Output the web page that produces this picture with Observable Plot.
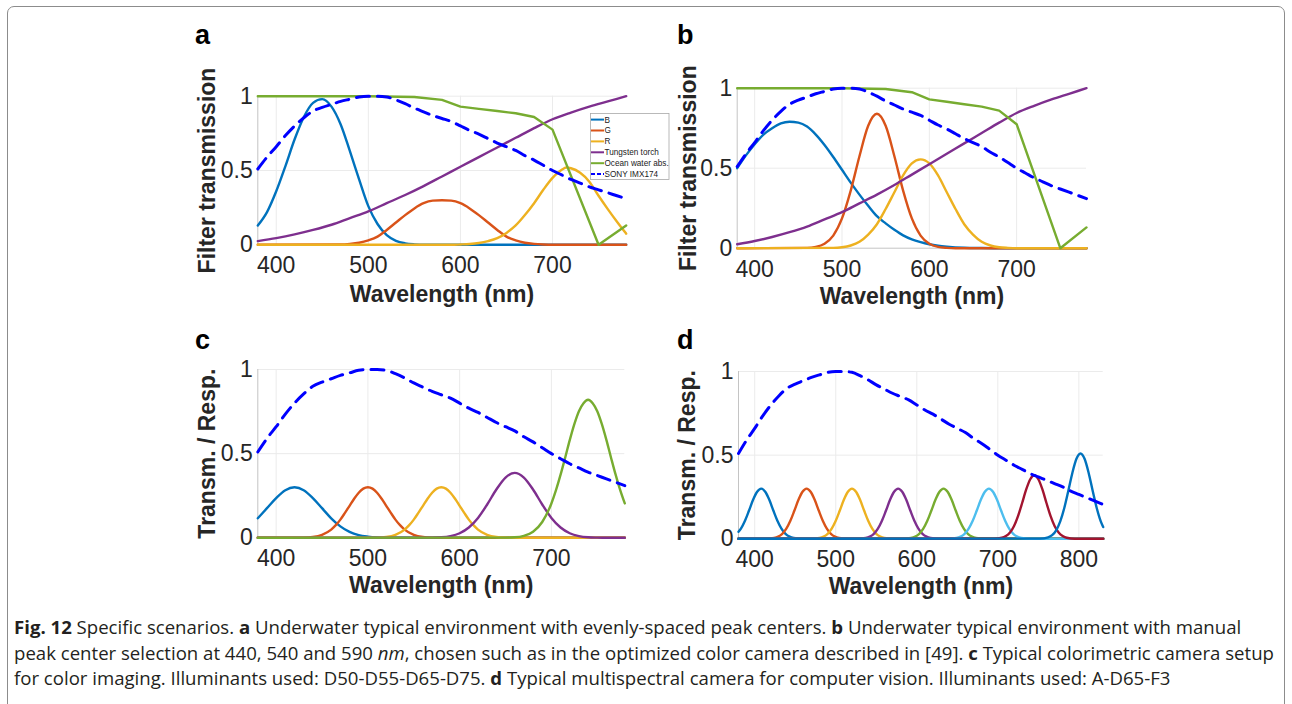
<!DOCTYPE html>
<html><head><meta charset="utf-8">
<script src="https://cdn.jsdelivr.net/npm/d3@7"></script>
<script src="https://cdn.jsdelivr.net/npm/@observablehq/plot@0.6"></script>
<style>
html,body{margin:0;padding:0;background:#fff;}
#page{position:relative;width:1292px;height:704px;overflow:hidden;font-family:"Liberation Sans",Arial,sans-serif;}
#frame{position:absolute;left:7px;top:6px;width:1278px;height:730px;border:1.3px solid #8c8c8c;border-radius:7px;box-sizing:border-box;}
.panel{position:absolute;}
#overlay{position:absolute;left:0;top:0;}
#caption{position:absolute;left:14px;top:614px;font-family:"Open Sans";font-size:18.6px;line-height:25.5px;color:#231f20;white-space:nowrap;}
#caption b{font-weight:700;}
</style></head><body>
<div id="page">
  <div id="frame"></div>
  <div id="pa" class="panel" style="left:180px;top:20px"></div>
  <div id="pb" class="panel" style="left:660px;top:20px"></div>
  <div id="pc" class="panel" style="left:180px;top:320px"></div>
  <div id="pd" class="panel" style="left:660px;top:320px"></div>
  <svg id="overlay" width="1292" height="704"></svg>
  <div id="caption"><b>Fig. 12</b> Specific scenarios. <b>a</b> Underwater typical environment with evenly-spaced peak centers. <b>b</b> Underwater typical environment with manual<br>peak center selection at 440, 540 and 590 <i>nm</i>, chosen such as in the optimized color camera described in [49]. <b>c</b> Typical colorimetric camera setup<br>for color imaging. Illuminants used: D50-D55-D65-D75. <b>d</b> Typical multispectral camera for computer vision. Illuminants used: A-D65-F3</div>
</div>
<script>
// ---------- shared data ----------
const xDomainABC = [380, 780];
const xDomainD = [380, 830];
const xTicksABC = [400, 500, 600, 700];
const xTicksD = [400, 500, 600, 700, 800];
const yTicks = [0, 0.5, 1];

const sonyWl = [380,390,400,410,420,430,440,450,460,470,480,490,500,510,520,530,540,550,560,570,580,590,600,610,620,630,640,650,660,670,680,690,700,710,720,730,740,750,760,770,780,790,800,810,820,830];
const sonyResp = [.51,.59,.66,.735,.80,.855,.90,.925,.945,.965,.98,.995,1.0,1.0,.995,.975,.95,.92,.895,.87,.85,.83,.80,.77,.745,.715,.685,.66,.635,.60,.57,.535,.50,.47,.44,.415,.39,.37,.35,.33,.31,.285,.265,.245,.225,.205];

const tungstenWl = [380,400,420,440,460,480,500,520,540,560,580,600,620,640,660,680,700,720,740,760,780];
const tungstenT = [.025,.045,.07,.10,.135,.18,.225,.28,.335,.395,.46,.525,.59,.655,.72,.785,.845,.89,.93,.965,1.0];

const oceanWl = [380,500,550,580,600,620,640,660,680,700,750,780];
const oceanT = [1,1,.995,.975,.93,.915,.90,.885,.86,.775,0,.13];

// ---------- panel a ----------
const aBWl = [380,390,400,410,420,430,440,450,460,470,480,490,500,510,520,530,540,550,560,780];
const aBT = [.13,.22,.36,.53,.71,.86,.955,.98,.93,.81,.63,.44,.26,.14,.065,.027,.01,.003,0,0];
const aGWl = [380,470,480,490,500,510,520,530,540,550,560,570,580,590,600,610,620,630,640,650,660,670,680,690,700,780];
const aGT = [0,.002,.006,.014,.03,.055,.10,.15,.20,.245,.28,.297,.30,.297,.28,.245,.20,.15,.10,.055,.03,.014,.006,.002,0,0];
const aRWl = [380,590,600,610,620,630,640,650,660,670,680,690,700,710,715,720,730,740,750,760,770,780];
const aRT = [0,0,.002,.005,.012,.025,.045,.08,.13,.20,.28,.37,.45,.505,.52,.515,.485,.425,.33,.24,.155,.075];

// ---------- panel b ----------
const bBWl = [380,390,400,410,420,430,440,450,460,470,480,490,500,510,520,530,540,550,560,570,580,590,600,610,620,640,660,680,780];
const bBT = [.50,.58,.65,.71,.75,.78,.79,.785,.76,.71,.645,.57,.49,.41,.335,.265,.20,.155,.115,.08,.055,.038,.025,.016,.01,.003,.001,0,0];
const bGWl = [380,460,470,480,490,500,510,520,530,540,550,560,570,580,590,600,610,620,630,780];
const bGT = [0,.002,.008,.028,.079,.186,.36,.575,.765,.84,.765,.575,.36,.186,.079,.028,.008,.002,0,0];
const bRWl = [380,490,500,510,520,530,540,550,560,570,580,590,600,610,620,630,640,650,660,670,680,690,700,780];
const bRT = [0,.002,.006,.017,.04,.085,.15,.245,.35,.455,.53,.555,.53,.455,.35,.245,.15,.085,.04,.017,.006,.002,0,0];

// ---------- panel c ----------
const cBWl = [380,390,400,410,420,430,440,450,460,470,480,490,500,510,520,780];
const cBT = [.116,.176,.236,.283,.30,.283,.236,.176,.116,.068,.035,.016,.007,.002,0,0];
const cGWl = [380,430,440,450,460,465,470,475,480,485,490,495,500,505,510,515,520,525,530,535,540,550,560,570,580,780];
const cGT = [0,.001,.005,.018,.049,.075,.108,.148,.19,.232,.268,.292,.30,.292,.268,.232,.19,.148,.108,.075,.049,.018,.005,.001,0,0];
const cRWl = [380,510,520,530,540,545,550,555,560,565,570,575,580,585,590,595,600,605,610,615,620,630,640,650,660,780];
const cRT = [0,.001,.005,.018,.049,.075,.108,.148,.19,.232,.268,.292,.30,.292,.268,.232,.19,.148,.108,.075,.049,.018,.005,.001,0,0];
const cPWl = [380,570,580,590,600,610,620,630,640,650,660,670,680,690,700,710,720,730,740,750,760,780];
const cPT = [0,.001,.003,.010,.027,.061,.118,.198,.287,.358,.386,.358,.287,.198,.118,.061,.027,.010,.003,.001,0,0];
const cVWl = [380,650,660,670,680,690,700,705,710,715,720,725,730,735,740,745,750,755,760,765,770,775,780];
const cVT = [0,.001,.003,.012,.036,.094,.204,.283,.375,.476,.58,.675,.752,.80,.82,.80,.752,.675,.58,.476,.375,.283,.204];

// ---------- panel d ----------
const dPeak30 = [0,.0005,.005,.013,.030,.061,.108,.169,.233,.281,.30,.281,.233,.169,.108,.061,.030,.013,.005,.0005,0];
const d1Wl = [380,383,388,393,398,403,408,413,418,423,428,433,438,443,448,458,830];
const d1T = [.042,.061,.108,.169,.233,.281,.30,.281,.233,.169,.108,.061,.030,.013,.005,.0005,0];
const d2Wl = [380,414,424,429,434,439,444,449,454,459,464,469,474,479,484,489,494,499,504,514,830];
const d3Wl = [380,470,480,485,490,495,500,505,510,515,520,525,530,535,540,545,550,555,560,570,830];
const d4Wl = [380,527,537,542,547,552,557,562,567,572,577,582,587,592,597,602,607,612,617,627,830];
const d5Wl = [380,583,593,598,603,608,613,618,623,628,633,638,643,648,653,658,663,668,673,683,830];
const d6Wl = [380,639,649,654,659,664,669,674,679,684,689,694,699,704,709,714,719,724,729,739,830];
const d7Wl = [380,695,705,710,715,720,725,730,735,740,745,750,755,760,765,770,775,780,785,795,830];
const d7T = [0,.0006,.006,.017,.038,.077,.137,.214,.295,.356,.38,.356,.295,.214,.137,.077,.038,.017,.006,.0006,0];
const d8Wl = [380,752,762,767,772,777,782,787,792,797,802,807,812,817,822,827,830];
const d8T = [0,.001,.009,.022,.051,.104,.184,.287,.395,.478,.51,.478,.395,.287,.184,.104,.07];

const legendLabels = ["B","G","R","Tungsten torch","Ocean water abs.","SONY IMX174"];

// ---------- styles ----------
const C = {blue:"#0072BD", orange:"#D95319", yellow:"#EDB120", purple:"#7E2F8E", green:"#77AC30", cyan:"#4DBEEE", maroon:"#A2142F", sony:"#0000FF"};
const FONT = "Liberation Sans, Arial, Helvetica, sans-serif";

function rows(wl, v, xmax) {
  const out = wl.map((w, i) => ({w, v: v[i]}));
  return xmax == null ? out : out.filter(d => d.w <= xmax);
}

function drawPanel(cfg) {
  const marks = [
    Plot.gridX(cfg.xticks, {stroke: "#ebebeb", strokeOpacity: 1, strokeWidth: 1}),
    Plot.gridY([0.5, 1], {stroke: "#ebebeb", strokeOpacity: 1, strokeWidth: 1}),
    Plot.ruleX([cfg.domain[0]], {stroke: "#c4c4c4", strokeWidth: 1}),
    Plot.ruleY([0], {stroke: "#c4c4c4", strokeWidth: 1})
  ];
  for (const s of cfg.series) {
    marks.push(Plot.line(s.data, {
      x: "w", y: "v", stroke: s.color,
      strokeWidth: s.dash ? 3 : 2.4,
      strokeDasharray: s.dash || null,
      curve: s.curve || "monotone-x",
      strokeLinejoin: "round"
    }));
  }
  marks.push(
    Plot.axisX(cfg.xticks, {tickSize: 0, tickPadding: 12, fontSize: 23, color: "#262626", label: null, tickFormat: d => String(d)}),
    Plot.axisY(yTicks, {tickSize: 0, tickPadding: 5, fontSize: 23, color: "#262626", label: null, tickFormat: d => String(d)}),
    Plot.text([cfg.ylabel], {frameAnchor: "left", textAnchor: "middle", lineAnchor: "middle", rotate: -90, dx: cfg.ylabelDx, fontSize: 23, fontWeight: "bold", fill: "#262626"}),
    Plot.text(["Wavelength (nm)"], {frameAnchor: "bottom", textAnchor: "middle", lineAnchor: "middle", dy: cfg.xlabelDy, fontSize: 23, fontWeight: "bold", fill: "#262626"})
  );
  const svg = Plot.plot({
    width: cfg.width, height: cfg.height,
    marginLeft: cfg.m[0], marginRight: cfg.m[1], marginTop: cfg.m[2], marginBottom: cfg.m[3],
    x: {domain: cfg.domain},
    y: {domain: [0, 1]},
    style: {fontFamily: FONT, background: "transparent", overflow: "visible"},
    marks
  });
  document.getElementById(cfg.el).appendChild(svg);
}

const sonyABC = rows(sonyWl, sonyResp, 780);
const DASH = "13,8";

drawPanel({
  el: "pa", width: 460, height: 300, m: [77.3, 14.3, 75.7, 75.7],
  domain: xDomainABC, xticks: xTicksABC, ylabel: "Filter transmission", ylabelDx: -50.5, xlabelDy: 50.3,
  series: [
    {data: rows(aBWl, aBT), color: C.blue},
    {data: rows(aGWl, aGT), color: C.orange},
    {data: rows(aRWl, aRT), color: C.yellow},
    {data: rows(tungstenWl, tungstenT), color: C.purple},
    {data: rows(oceanWl, oceanT), color: C.green, curve: "linear"},
    {data: sonyABC, color: C.sony, dash: DASH}
  ]
});

drawPanel({
  el: "pb", width: 440, height: 300, m: [76.7, 14, 67.7, 72.3],
  domain: xDomainABC, xticks: xTicksABC, ylabel: "Filter transmission", ylabelDx: -49, xlabelDy: 48,
  series: [
    {data: rows(bBWl, bBT), color: C.blue},
    {data: rows(bGWl, bGT), color: C.orange},
    {data: rows(bRWl, bRT), color: C.yellow},
    {data: rows(tungstenWl, tungstenT), color: C.purple},
    {data: rows(oceanWl, oceanT), color: C.green, curve: "linear"},
    {data: sonyABC, color: C.sony, dash: DASH}
  ]
});

drawPanel({
  el: "pc", width: 460, height: 290, m: [77.3, 15.7, 49, 72.7],
  domain: xDomainABC, xticks: xTicksABC, ylabel: "Transm. / Resp.", ylabelDx: -50.5, xlabelDy: 48.3,
  series: [
    {data: rows(cBWl, cBT), color: C.blue},
    {data: rows(cGWl, cGT), color: C.orange},
    {data: rows(cRWl, cRT), color: C.yellow},
    {data: rows(cPWl, cPT), color: C.purple},
    {data: rows(cVWl, cVT), color: C.green},
    {data: sonyABC, color: C.sony, dash: DASH}
  ]
});

drawPanel({
  el: "pd", width: 460, height: 290, m: [78, 17.3, 51, 71.7],
  domain: xDomainD, xticks: xTicksD, ylabel: "Transm. / Resp.", ylabelDx: -50.5, xlabelDy: 48.3,
  series: [
    {data: rows(d1Wl, d1T), color: C.blue},
    {data: rows(d2Wl, dPeak30), color: C.orange},
    {data: rows(d3Wl, dPeak30), color: C.yellow},
    {data: rows(d4Wl, dPeak30), color: C.purple},
    {data: rows(d5Wl, dPeak30), color: C.green},
    {data: rows(d6Wl, dPeak30), color: C.cyan},
    {data: rows(d7Wl, d7T), color: C.maroon},
    {data: rows(d8Wl, d8T), color: C.blue},
    {data: rows(sonyWl, sonyResp), color: C.sony, dash: DASH}
  ]
});

// ---------- overlay: panel letters + legend of panel a ----------
const NS = "http://www.w3.org/2000/svg";
const ov = document.getElementById("overlay");
function el(tag, attrs, text) {
  const e = document.createElementNS(NS, tag);
  for (const k in attrs) e.setAttribute(k, attrs[k]);
  if (text != null) e.textContent = text;
  ov.appendChild(e);
  return e;
}
[["a", 195, 44], ["b", 677, 44], ["c", 195, 349], ["d", 677, 348.5]].forEach(([t, x, y]) =>
  el("text", {x, y, "font-family": FONT, "font-size": 27, "font-weight": "bold", fill: "#000"}, t));

el("rect", {x: 590.5, y: 113.5, width: 78.5, height: 66, fill: "#fff", stroke: "#a8a8a8", "stroke-width": 0.8});
const legColors = [C.blue, C.orange, C.yellow, C.purple, C.green, C.sony];
legendLabels.forEach((lab, i) => {
  const y = 119.6 + i * 10.9;
  el("line", {x1: 591, x2: 604, y1: y, y2: y, stroke: legColors[i], "stroke-width": 2, "stroke-dasharray": i === 5 ? "4,2" : "none"});
  el("text", {x: 604.5, y: y + 2.9, "font-family": FONT, "font-size": 8.2, fill: "#1a1a1a"}, lab);
});
</script>
</body></html>
